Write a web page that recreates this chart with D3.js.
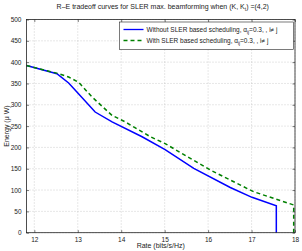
<!DOCTYPE html>
<html>
<head>
<meta charset="utf-8">
<script src="https://cdn.jsdelivr.net/npm/d3@7"></script>
<style>
  body { margin: 0; background: #fff; }
  svg { display: block; font-family: "Liberation Sans", Arial, sans-serif; }
  .grid line { stroke: #b0b0b0; stroke-dasharray: 1,2; stroke-width: 0.6; }
</style>
</head>
<body>
<div class="demo"></div>
<script>
(function() {
    // blue: without SLER based scheduling
    var rateWithout = [11.82, 12.52, 12.79, 12.98, 13.40, 13.79, 14.48, 15.01, 15.67, 16.51, 17.01, 17.57, 17.57];
    var energyWithout = [392, 373, 351, 330, 283, 260, 225, 195, 151, 106, 83, 63, 0];

    // green dashed: with SLER based scheduling
    var rateWith = [11.82, 12.56, 12.79, 13.02, 13.33, 13.79, 14.09, 14.67, 15.01, 16.05, 17.05, 17.97, 17.97];
    var energyWith = [392, 373, 365, 353, 318, 275, 260, 225, 209, 147, 96, 65, 0];

    var xTicks = [12, 13, 14, 15, 16, 17, 18];
    var yTicks = [0, 50, 100, 150, 200, 250, 300, 350, 400, 450, 500];

    var width = 302,
        height = 251;

    var left = 26.5, right = 295, top = 19.5, bottom = 232.7;

    var svg = d3.select(".demo").append("svg")
        .attr("width", width)
        .attr("height", height);

    var x = d3.scaleLinear().domain([11.82, 18]).range([left, right]);
    var y = d3.scaleLinear().domain([0, 500]).range([bottom, top]);

    // grid
    var grid = svg.append("g").attr("class", "grid");
    grid.selectAll(".gx").data(xTicks).enter().append("line")
        .attr("x1", function(d) { return x(d); })
        .attr("x2", function(d) { return x(d); })
        .attr("y1", top).attr("y2", bottom);
    grid.selectAll(".gy").data(yTicks).enter().append("line")
        .attr("x1", left).attr("x2", right)
        .attr("y1", function(d) { return y(d); })
        .attr("y2", function(d) { return y(d); });

    // axes, ticks inward like matlab
    var xAxis = d3.axisBottom(x).tickValues(xTicks).tickFormat(d3.format("d"))
        .tickSizeInner(-2.5).tickSizeOuter(0).tickPadding(5);
    var yAxis = d3.axisLeft(y).tickValues(yTicks).tickFormat(d3.format("d"))
        .tickSizeInner(-2.5).tickSizeOuter(0).tickPadding(5);

    var gx = svg.append("g").attr("transform", "translate(0," + bottom + ")").call(xAxis);
    var gy = svg.append("g").attr("transform", "translate(" + left + ",0)").call(yAxis);
    [gx, gy].forEach(function(g) {
        g.select(".domain").remove();
        g.selectAll("line").attr("stroke", "#222").attr("stroke-width", 0.6);
        g.selectAll("text").attr("font-size", "6.5px").attr("fill", "#222")
            .attr("font-family", "Liberation Sans, Arial, sans-serif");
    });
    // top/right tick marks
    svg.append("g").attr("transform", "translate(0," + top + ")")
        .call(d3.axisTop(x).tickValues(xTicks).tickSizeInner(-2.5).tickSizeOuter(0).tickFormat(""))
        .call(function(g) { g.select(".domain").remove(); g.selectAll("line").attr("stroke", "#222").attr("stroke-width", 0.6); });
    svg.append("g").attr("transform", "translate(" + right + ",0)")
        .call(d3.axisRight(y).tickValues(yTicks).tickSizeInner(-2.5).tickSizeOuter(0).tickFormat(""))
        .call(function(g) { g.select(".domain").remove(); g.selectAll("line").attr("stroke", "#222").attr("stroke-width", 0.6); });

    var line = d3.line()
        .x(function(d) { return x(d[0]); })
        .y(function(d) { return y(d[1]); });

    svg.append("path")
        .datum(d3.zip(rateWithout, energyWithout))
        .attr("d", line)
        .attr("fill", "none")
        .attr("stroke", "#0000ff")
        .attr("stroke-width", 1.5);

    svg.append("path")
        .datum(d3.zip(rateWith, energyWith))
        .attr("d", line)
        .attr("fill", "none")
        .attr("stroke", "#008000")
        .attr("stroke-width", 1.5)
        .attr("stroke-dasharray", "4,3");

    // frame
    svg.append("rect")
        .attr("x", left).attr("y", top)
        .attr("width", right - left).attr("height", bottom - top)
        .attr("fill", "none").attr("stroke", "#222").attr("stroke-width", 0.8);

    // legend
    var lg = svg.append("g").attr("transform", "translate(119.5,22)");
    lg.append("rect").attr("width", 174).attr("height", 27.5)
        .attr("fill", "#fff").attr("stroke", "#222").attr("stroke-width", 0.6);
    var items = [
        { color: "#0000ff", dash: null, label: "Without SLER based scheduling, " },
        { color: "#008000", dash: "4,3", label: "With SLER based scheduling, " }
    ];
    items.forEach(function(it, i) {
        var yy = 7.5 + i * 11;
        lg.append("line").attr("x1", 4).attr("x2", 24).attr("y1", yy).attr("y2", yy)
            .attr("stroke", it.color).attr("stroke-width", 1.3)
            .attr("stroke-dasharray", it.dash);
        var t = lg.append("text").attr("x", 27).attr("y", yy + 2.3)
            .attr("font-size", "6.5px").attr("fill", "#222");
        t.append("tspan").text(it.label + "\u03b1");
        t.append("tspan").attr("font-size", "4.5px").attr("dy", 1.8).text("ij");
        t.append("tspan").attr("dy", -1.8).text("=0.3, , i\u2260 j");
    });

    // title
    var title = svg.append("text").attr("x", (left + right) / 2 + 2).attr("y", 9)
        .attr("text-anchor", "middle").attr("font-size", "7px").attr("fill", "#222");
    title.append("tspan").text("R\u2013E tradeoff curves for SLER max. beamforming when (K, K");
    title.append("tspan").attr("font-size", "5px").attr("dy", 1.8).text("t");
    title.append("tspan").attr("dy", -1.8).text(") =(4,2)");

    svg.append("text").attr("x", (left + right) / 2).attr("y", 248)
        .attr("text-anchor", "middle").attr("font-size", "7px").attr("fill", "#222")
        .text("Rate (bits/s/Hz)");

    svg.append("text")
        .attr("transform", "translate(9," + ((top + bottom) / 2) + ") rotate(-90)")
        .attr("text-anchor", "middle").attr("font-size", "7px").attr("fill", "#222")
        .text("Energy (\u03bc W)");
})();
</script>
</body>
</html>
